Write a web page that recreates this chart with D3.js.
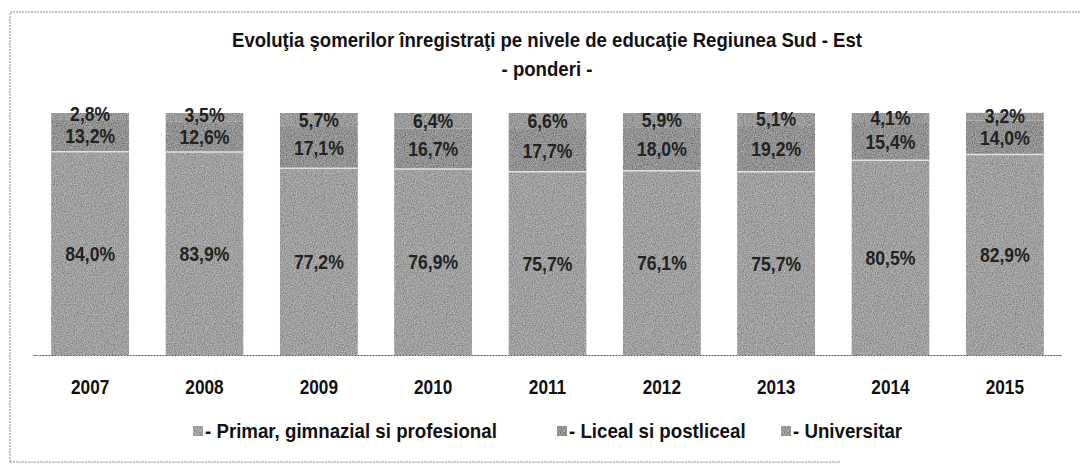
<!DOCTYPE html>
<html>
<head>
<meta charset="utf-8">
<script src="https://cdn.jsdelivr.net/npm/d3@7"></script>
<style>
  body { margin: 0; background: #fff; }
  text { font-family: 'Liberation Sans', Arial, sans-serif; font-weight: bold; }
</style>
</head>
<body>
<script>
var width = 1080,
    height = 470;

// values (ponderi, %)
var years = ['2007', '2008', '2009', '2010', '2011', '2012', '2013', '2014', '2015'];
var primar = [84.0, 83.9, 77.2, 76.9, 75.7, 76.1, 75.7, 80.5, 82.9];
var liceal = [13.2, 12.6, 17.1, 16.7, 17.7, 18.0, 19.2, 15.4, 14.0];
var universitar = [2.8, 3.5, 5.7, 6.4, 6.6, 5.9, 5.1, 4.1, 3.2];
var seriesKeys = ['primar', 'liceal', 'universitar'];
var seriesNames = ['- Primar, gimnazial si profesional', '- Liceal si postliceal', '- Universitar'];
var seriesColors = ['#a0a0a0', '#929292', '#9a9a9a'];

var rows = years.map(function(y, i) {
    return { year: y, primar: primar[i], liceal: liceal[i], universitar: universitar[i] };
});

/* no narrow font here, so squeeze the bold sans sideways */
function condense(sel, k) {
    sel.each(function() {
        var w = this.getComputedTextLength();
        d3.select(this)
            .attr('textLength', w * k)
            .attr('lengthAdjust', 'spacingAndGlyphs');
    });
}

var svg = d3.select('body').append('svg')
    .attr('width', width)
    .attr('height', height);

/* grainy look of the scanned print */
var defs = svg.append('defs');
var grain = defs.append('filter').attr('id', 'grain')
    .attr('x', 0).attr('y', 0).attr('width', 1).attr('height', 1);
grain.append('feTurbulence')
    .attr('type', 'fractalNoise')
    .attr('baseFrequency', 0.9)
    .attr('numOctaves', 2)
    .attr('seed', 3)
    .attr('result', 'noise');
grain.append('feColorMatrix')
    .attr('in', 'noise')
    .attr('type', 'matrix')
    .attr('values', '1 0 0 0 0  1 0 0 0 0  1 0 0 0 0  0 0 0 0 1')
    .attr('result', 'gray');
grain.append('feComposite')
    .attr('in', 'SourceGraphic')
    .attr('in2', 'gray')
    .attr('operator', 'arithmetic')
    .attr('k1', 0).attr('k2', 1).attr('k3', 0.5).attr('k4', -0.25)
    .attr('result', 'mixed');
grain.append('feComposite')
    .attr('in', 'mixed')
    .attr('in2', 'SourceGraphic')
    .attr('operator', 'in');

// frame
svg.append('path')
    .attr('d', 'M10,462 L10,12 L1080,12 M10,462 L840,462')
    .attr('fill', 'none')
    .attr('stroke', '#8a8a8a')
    .attr('stroke-width', 1)
    .attr('stroke-dasharray', '2,1');

var x = d3.scaleBand()
    .domain(years)
    .range([33, 1062])
    .paddingInner(0.32)
    .paddingOuter(0.16);

var y = d3.scaleLinear()
    .domain([0, 100])
    .range([355, 113]);

var stack = d3.stack().keys(seriesKeys);
var layers = stack(rows);

var groups = svg.selectAll('g.layer')
    .data(layers)
    .enter().append('g')
    .attr('class', 'layer')
    .attr('fill', function(d, i) { return seriesColors[i]; });

groups.selectAll('rect')
    .data(function(d) { return d; })
    .enter().append('rect')
    .attr('x', function(d) { return x(d.data.year); })
    .attr('y', function(d) { return y(d[1]); })
    .attr('width', x.bandwidth())
    .attr('height', function(d) { return y(d[0]) - y(d[1]); })
    .attr('filter', 'url(#grain)');

// light seam between primar and liceal
svg.selectAll('line.seam')
    .data(layers[0])
    .enter().append('line')
    .attr('class', 'seam')
    .attr('x1', function(d) { return x(d.data.year); })
    .attr('x2', function(d) { return x(d.data.year) + x.bandwidth(); })
    .attr('y1', function(d) { return y(d[1]); })
    .attr('y2', function(d) { return y(d[1]); })
    .attr('stroke', '#e2e2e2')
    .attr('stroke-width', 1.5);

var fmt = function(v) { return d3.format('.1f')(v).replace('.', ',') + '%'; };

function labelY(d, li, i) {
    var mid = (y(d[0]) + y(d[1])) / 2;
    if (li === 2) {
        // keep the thin top label clear of the one below it
        var below = layers[1][i];
        return Math.min(mid, (y(below[0]) + y(below[1])) / 2 - 22);
    }
    return mid;
}

groups.each(function(layer, li) {
    d3.select(this).selectAll('text')
        .data(layer)
        .enter().append('text')
        .attr('x', function(d) { return x(d.data.year) + x.bandwidth() / 2; })
        .attr('y', function(d, i) { return labelY(d, li, i); })
        .attr('dy', '0.36em')
        .attr('text-anchor', 'middle')
        .attr('fill', '#222')
        .style('font-size', '20px')
        .text(function(d) { return fmt(d[1] - d[0]); })
        .call(condense, 0.88);
});

// axis line with the year labels
var xAxis = d3.axisBottom(x).tickSize(0).tickPadding(24);
var axisG = svg.append('g')
    .attr('transform', 'translate(0,' + y(0) + ')')
    .call(xAxis);
axisG.select('.domain')
    .attr('stroke', '#555')
    .attr('stroke-dasharray', '2,1');
axisG.selectAll('text')
    .attr('fill', '#111')
    .style('font-size', '21px')
    .style('font-family', null)
    .call(condense, 0.82);

// title
svg.append('text')
    .attr('x', 547)
    .attr('y', 47)
    .attr('text-anchor', 'middle')
    .attr('fill', '#111')
    .style('font-size', '21px')
    .text('Evoluţia şomerilor înregistraţi pe nivele de educaţie Regiunea Sud - Est')
    .call(condense, 0.885);
svg.append('text')
    .attr('x', 547)
    .attr('y', 76)
    .attr('text-anchor', 'middle')
    .attr('fill', '#111')
    .style('font-size', '21px')
    .text('- ponderi -')
    .call(condense, 0.885);

// legend
var legendX = [193, 557, 781];
var legend = svg.selectAll('g.legend')
    .data(seriesNames)
    .enter().append('g')
    .attr('class', 'legend')
    .attr('transform', function(d, i) { return 'translate(' + legendX[i] + ',438)'; });
legend.append('rect')
    .attr('x', 0)
    .attr('y', -12)
    .attr('width', 10)
    .attr('height', 10)
    .attr('fill', function(d, i) { return seriesColors[i]; })
    .attr('filter', 'url(#grain)');
legend.append('text')
    .attr('x', 12)
    .attr('y', 0)
    .attr('fill', '#111')
    .style('font-size', '21px')
    .text(function(d) { return d; })
    .call(condense, 0.89);
</script>
</body>
</html>
